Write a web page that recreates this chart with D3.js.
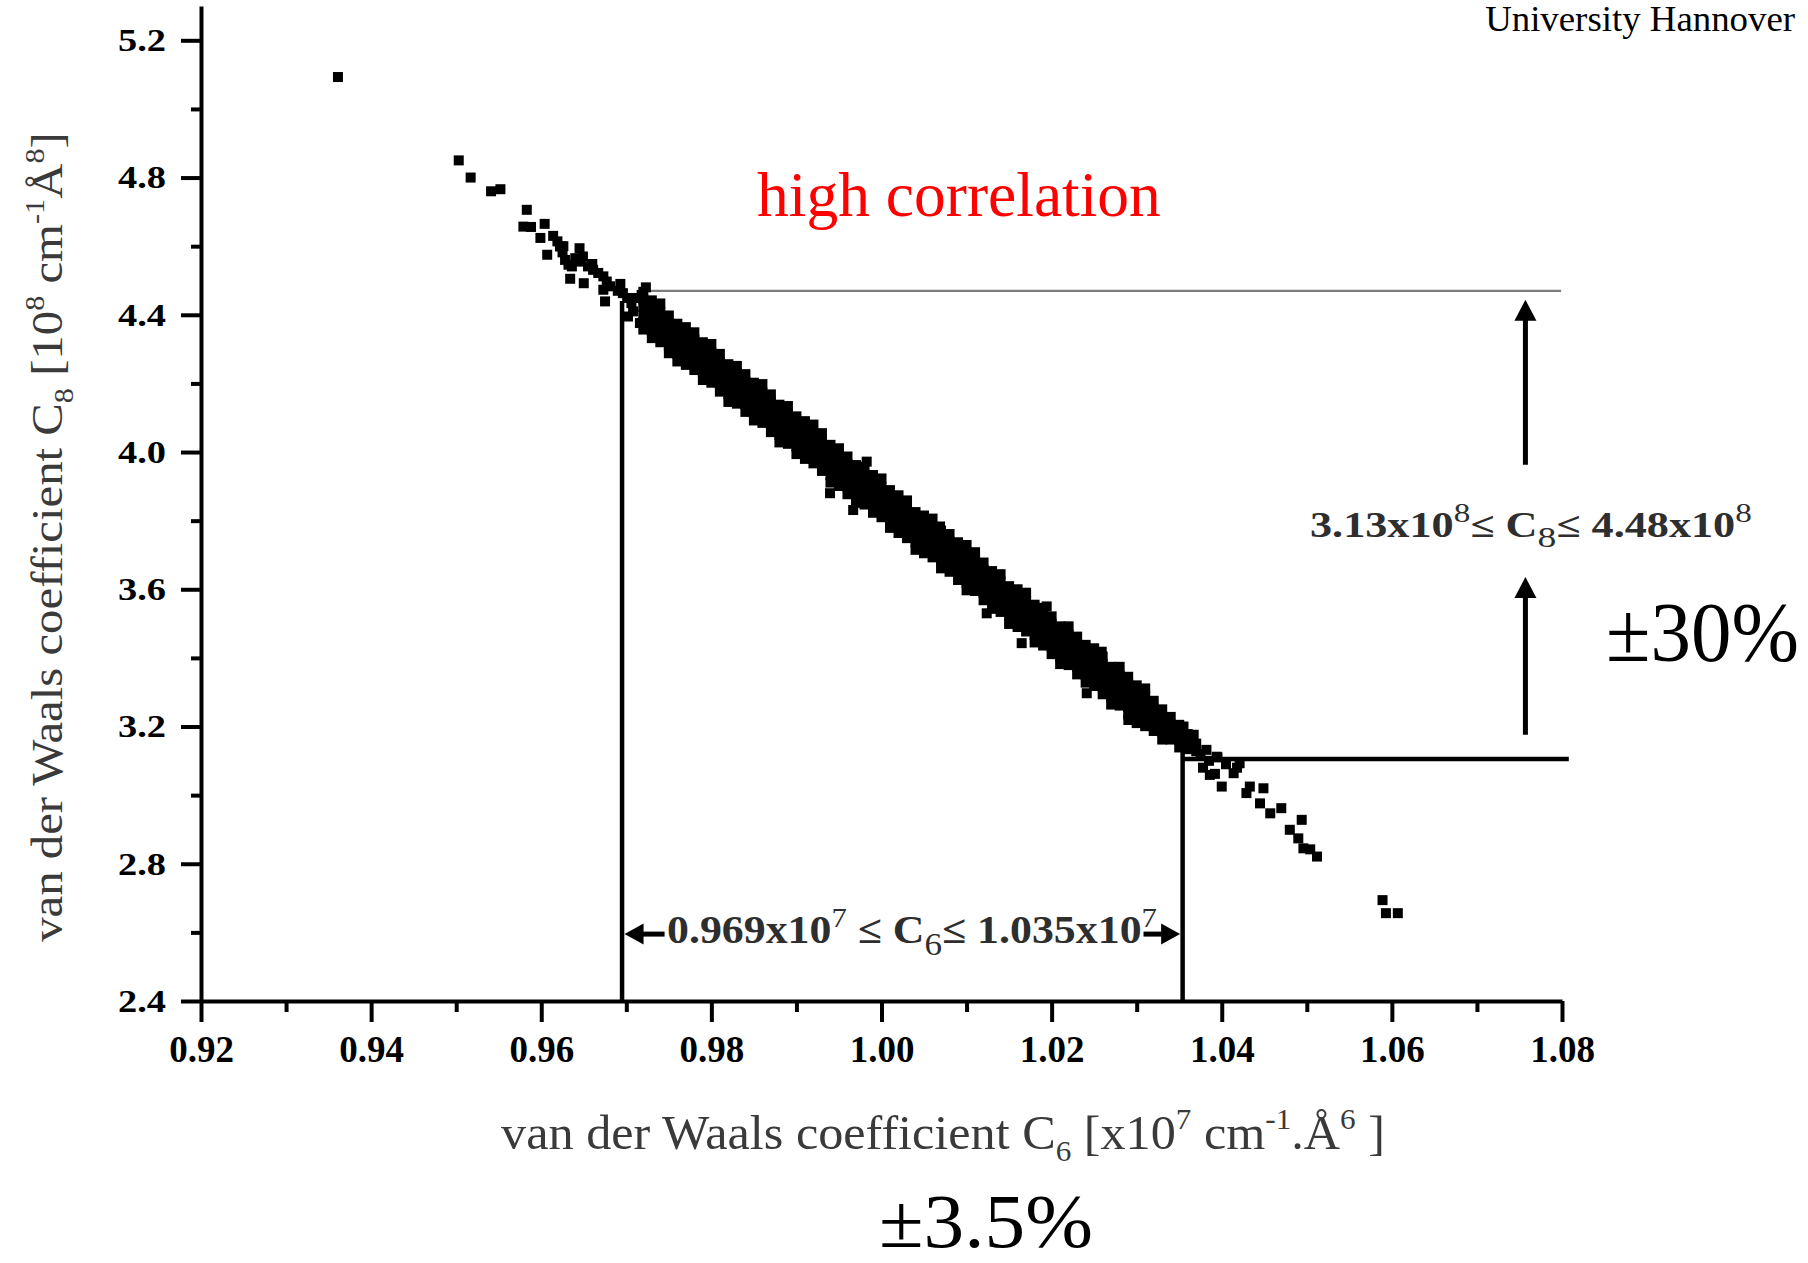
<!DOCTYPE html>
<html><head><meta charset="utf-8">
<script src="https://cdn.jsdelivr.net/npm/d3@7"></script>
<style>
body{margin:0;background:#fff}
svg{display:block}
text{font-family:"Liberation Serif","Times New Roman",Times,serif}
</style>
</head><body>
<svg id="c" width="1808" height="1263"></svg>
<script>
// ---------------- DATA ----------------
const xMajor = [0.92,0.94,0.96,0.98,1.00,1.02,1.04,1.06,1.08];
const xMajorLabels = ["0.92","0.94","0.96","0.98","1.00","1.02","1.04","1.06","1.08"];
const xMinor = [0.93,0.95,0.97,0.99,1.01,1.03,1.05,1.07];
const yMajor = [2.4,2.8,3.2,3.6,4.0,4.4,4.8,5.2];
const yMajorLabels = ["2.4","2.8","3.2","3.6","4.0","4.4","4.8","5.2"];
const yMinor = [2.6,3.0,3.4,3.8,4.2,4.6,5.0];

// sparse points at the upper-left end of the cloud [C6, C8]
const sparseUpper = [[0.9361,5.093],[0.9503,4.850],[0.9517,4.800],[0.9541,4.760],[0.9552,4.766],
 [0.9583,4.706],[0.9579,4.657],[0.9588,4.656],[0.9604,4.665],[0.9599,4.624],[0.9607,4.575],
 [0.9645,4.594],[0.9634,4.505],[0.9650,4.492],[0.9675,4.439],[0.9693,4.490],[0.9723,4.480]];
const clusterUpper = [[0.9614,4.630],[0.9619,4.614],[0.9622,4.599],[0.9625,4.582],[0.9628,4.560],
 [0.9632,4.546],[0.9636,4.541],[0.9640,4.565],[0.9646,4.555],[0.9649,4.570],[0.9655,4.541],
 [0.9661,4.531],[0.9667,4.522],[0.9673,4.512],[0.9677,4.497],[0.9681,4.483],[0.9673,4.473],
 [0.9696,4.463],[0.9701,4.449],[0.9706,4.434],[0.9712,4.449],[0.9718,4.458],[0.9708,4.410],
 [0.9702,4.395],[0.9716,4.376],[0.9724,4.415],[0.9626,4.600],[0.9660,4.548],[0.9690,4.470]];
// dense band: [C6, [C8 values]]
const bandColumns = [
 [0.972,[4.467,4.445,4.423,4.401,4.379,4.357]],
 [0.973,[4.442,4.420,4.398,4.376,4.354,4.332]],
 [0.974,[4.433,4.408,4.386,4.364,4.342,4.320]],
 [0.975,[4.398,4.376,4.354,4.332,4.310,4.288]],
 [0.976,[4.374,4.352,4.330,4.308,4.286,4.264]],
 [0.977,[4.364,4.342,4.320,4.298,4.276,4.254]],
 [0.978,[4.349,4.327,4.305,4.283,4.261,4.239]],
 [0.979,[4.320,4.298,4.276,4.254,4.232,4.210]],
 [0.980,[4.315,4.290,4.268,4.246,4.224,4.202]],
 [0.981,[4.286,4.264,4.242,4.220,4.198,4.176]],
 [0.982,[4.256,4.234,4.212,4.190,4.168,4.146]],
 [0.983,[4.251,4.229,4.207,4.185,4.163,4.141]],
 [0.984,[4.227,4.205,4.183,4.161,4.139,4.117]],
 [0.985,[4.202,4.180,4.158,4.136,4.114,4.092]],
 [0.986,[4.198,4.173,4.151,4.129,4.107,4.085]],
 [0.987,[4.168,4.146,4.124,4.102,4.080,4.058]],
 [0.988,[4.138,4.116,4.094,4.072,4.050,4.028]],
 [0.989,[4.134,4.112,4.090,4.068,4.046,4.024]],
 [0.990,[4.104,4.082,4.060,4.038,4.016,3.994]],
 [0.991,[4.090,4.068,4.046,4.024,4.002,3.980]],
 [0.992,[4.080,4.055,4.033,4.011,3.989,3.967]],
 [0.993,[4.055,4.033,4.011,3.989,3.967,3.945]],
 [0.994,[4.021,3.999,3.977,3.955,3.933,3.911]],
 [0.995,[4.011,3.989,3.967,3.945,3.923,3.901]],
 [0.996,[3.987,3.965,3.943,3.921,3.899,3.877]],
 [0.997,[3.962,3.940,3.918,3.896,3.874,3.852]],
 [0.998,[3.957,3.935,3.913,3.891,3.869,3.847]],
 [0.999,[3.933,3.911,3.889,3.867,3.845,3.823]],
 [1.000,[3.923,3.898,3.876,3.854,3.832,3.810]],
 [1.001,[3.889,3.867,3.845,3.823,3.801,3.779]],
 [1.002,[3.874,3.852,3.830,3.808,3.786,3.764]],
 [1.003,[3.859,3.837,3.815,3.793,3.771,3.749]],
 [1.004,[3.825,3.803,3.781,3.759,3.737,3.715]],
 [1.005,[3.815,3.793,3.771,3.749,3.727,3.705]],
 [1.006,[3.806,3.781,3.759,3.737,3.715,3.693]],
 [1.007,[3.771,3.749,3.727,3.705,3.683,3.661]],
 [1.008,[3.761,3.739,3.717,3.695,3.673,3.651]],
 [1.009,[3.737,3.715,3.693,3.671,3.649,3.627]],
 [1.010,[3.707,3.685,3.663,3.641,3.619,3.597]],
 [1.011,[3.708,3.683,3.661,3.639,3.617,3.595]],
 [1.012,[3.678,3.656,3.634,3.612,3.590,3.568]],
 [1.013,[3.653,3.631,3.609,3.587,3.565,3.543]],
 [1.014,[3.644,3.622,3.600,3.578,3.556,3.534]],
 [1.015,[3.609,3.587,3.565,3.543,3.521,3.499]],
 [1.016,[3.600,3.578,3.556,3.534,3.512,3.490]],
 [1.017,[3.590,3.565,3.543,3.521,3.499,3.477]],
 [1.018,[3.555,3.533,3.511,3.489,3.467,3.445]],
 [1.019,[3.546,3.524,3.502,3.480,3.458,3.436]],
 [1.020,[3.521,3.499,3.477,3.455,3.433,3.411]],
 [1.021,[3.492,3.470,3.448,3.426,3.404,3.382]],
 [1.022,[3.492,3.467,3.445,3.423,3.401,3.379]],
 [1.023,[3.462,3.440,3.418,3.396,3.374,3.352]],
 [1.024,[3.438,3.416,3.394,3.372,3.350,3.328]],
 [1.025,[3.428,3.406,3.384,3.362,3.340,3.318]],
 [1.026,[3.404,3.382,3.360,3.338,3.316,3.294]],
 [1.027,[3.374,3.352,3.330,3.308,3.286,3.264]],
 [1.028,[3.374,3.349,3.327,3.305,3.283,3.261]],
 [1.029,[3.345,3.323,3.301,3.279,3.257,3.235]],
 [1.030,[3.320,3.298,3.276,3.254,3.232,3.210]],
 [1.031,[3.311,3.289,3.267,3.245,3.223,3.201]],
 [1.032,[3.275,3.253,3.231,3.209,3.187]],
 [1.033,[3.250,3.228,3.206,3.184,3.162]],
 [1.034,[3.228,3.206,3.184,3.162]],
 [1.035,[3.205,3.183,3.161,3.139]],
 [1.036,[3.178,3.156,3.134]],
 [1.037,[3.150,3.128]]
];
const bandOutliers = [[0.99395,3.880],[0.99667,3.831],[1.01237,3.530],[1.01648,3.443],[1.02413,3.297],
 [1.02902,3.219],[1.0100,3.729],[1.01942,3.550],[1.00688,3.783],[0.99826,3.972],[1.02589,3.418]];
const tailPoints = [[1.0355,3.200],[1.0367,3.176],[1.0382,3.132],[1.0394,3.112],[1.0375,3.120],
 [1.0385,3.100],[1.0395,3.110],[1.0405,3.090],[1.0418,3.080],[1.0378,3.080],[1.0392,3.062],
 [1.0386,3.059],[1.0400,3.025],[1.0414,3.064],[1.0421,3.093],[1.0429,3.006],[1.0433,3.025],
 [1.0449,3.020],[1.0445,2.976],[1.0457,2.947],[1.0470,2.962],[1.0494,2.928],[1.0480,2.899],
 [1.0490,2.874],[1.0496,2.845],[1.0504,2.842],[1.0512,2.821],[1.0589,2.694],[1.0593,2.656],[1.0607,2.656]];

// annotation values (chart units, as drawn in the picture)
const c6Bounds = [0.9695, 1.0354];
const c6BoundTops = [4.44, 3.13];
const c8GuideLevels = [4.47, 3.105];     // grey upper guide, black lower guide
const c8GuideStarts = [0.9724, 1.0354];
const c8GuideEnds = [1.0799, 1.0808];
const upArrowC6 = 1.0757;
const upArrowSpans = [[3.963, 4.444], [3.176, 3.636]];
const c6ArrowLevel = 2.595;
const c6ArrowTails = [0.9745, 1.0308];

// ---------------- DRAW ----------------
const svg = d3.select("#c");
const x = d3.scaleLinear().domain([0.92, 1.08]).range([201, 1562]);
const y = d3.scaleLinear().domain([2.4, 5.3]).range([1001, 6]);

function richText(parent, parts, o) {
  const t = parent.append("text").attr("x", o.x).attr("y", o.y)
    .attr("text-anchor", o.anchor || "start").attr("font-size", o.size)
    .attr("fill", o.fill || "#000").attr("font-weight", o.weight || "normal");
  let shift = 0;
  parts.forEach(p => {
    const str = p[0], kind = p[1];
    const ts = t.append("tspan").text(str);
    let target = 0, fs = o.size;
    if (kind === "sup") { target = -o.size * 0.42; fs = o.size * (o.supScale || 0.62); ts.attr("font-weight", "normal"); }
    if (kind === "sub") { target = o.size * (o.subShift || 0.25); fs = o.size * (o.subScale || 0.62); ts.attr("font-weight", "normal"); }
    if (target - shift !== 0) ts.attr("dy", target - shift);
    ts.attr("font-size", fs);
    shift = target;
  });
  if (o.width) {
    const bb = t.node().getBBox();
    const s = o.width / bb.width;
    t.attr("transform", `translate(${o.x},0) scale(${s},1) translate(${-o.x},0)`);
  }
  return t;
}

// guide lines
const guides = svg.append("g");
guides.append("line")
  .attr("x1", x(c8GuideStarts[0])).attr("x2", x(c8GuideEnds[0]))
  .attr("y1", y(c8GuideLevels[0])).attr("y2", y(c8GuideLevels[0]))
  .attr("stroke", "#7d7d7d").attr("stroke-width", 2.2);
guides.append("line")
  .attr("x1", x(c8GuideStarts[1])).attr("x2", x(c8GuideEnds[1]))
  .attr("y1", y(c8GuideLevels[1])).attr("y2", y(c8GuideLevels[1]))
  .attr("stroke", "#000").attr("stroke-width", 4.5);
guides.selectAll("line.v").data(c6Bounds).join("line").attr("class", "v")
  .attr("x1", d => x(d)).attr("x2", d => x(d))
  .attr("y1", y(2.4)).attr("y2", (d, i) => y(c6BoundTops[i]))
  .attr("stroke", "#000").attr("stroke-width", 4.5);

// points
const allPoints = [].concat(
  sparseUpper, clusterUpper,
  ...bandColumns.map(c => c[1].map(v => [c[0], v])),
  bandOutliers, tailPoints);
const ms = 10;
svg.append("g").selectAll("rect").data(allPoints).join("rect")
  .attr("x", d => x(d[0]) - ms / 2).attr("y", d => y(d[1]) - ms / 2)
  .attr("width", ms).attr("height", ms).attr("fill", "#000");

// axes
const axisStyle = g => {
  g.select(".domain").attr("stroke-width", 4).attr("stroke", "#000");
  g.selectAll(".tick line").attr("stroke-width", 4).attr("stroke", "#000");
};
const gy = svg.append("g").attr("transform", `translate(${x(0.92)},0)`)
  .call(d3.axisLeft(y).tickValues(yMajor).tickSize(20).tickSizeOuter(0).tickPadding(15)
    .tickFormat((d, i) => yMajorLabels[i]))
  .call(axisStyle);
gy.selectAll(".tick text").attr("font-size", 32).attr("font-weight", "bold").attr("fill", "#000")
  .attr("font-family", "'Liberation Serif',serif")
  .attr("transform", "translate(-35,0) scale(1.2,1) translate(35,0)");
svg.append("g").attr("transform", `translate(${x(0.92)},0)`)
  .call(d3.axisLeft(y).tickValues(yMinor).tickSize(10).tickSizeOuter(0).tickFormat(""))
  .call(axisStyle).call(g => g.select(".domain").remove());

const gx = svg.append("g").attr("transform", `translate(0,${y(2.4)})`)
  .call(d3.axisBottom(x).tickValues(xMajor).tickSize(21).tickSizeOuter(0)
    .tickFormat((d, i) => xMajorLabels[i]))
  .call(axisStyle);
gx.selectAll(".tick text").attr("font-size", 37).attr("font-weight", "bold").attr("fill", "#000")
  .attr("font-family", "'Liberation Serif',serif").attr("y", 61).attr("dy", 0);
svg.append("g").attr("transform", `translate(0,${y(2.4)})`)
  .call(d3.axisBottom(x).tickValues(xMinor).tickSize(11).tickSizeOuter(0).tickFormat(""))
  .call(axisStyle).call(g => g.select(".domain").remove());

// arrows
const arr = svg.append("g").attr("fill", "#000");
upArrowSpans.forEach(s => {
  const ax = x(upArrowC6), yt = y(s[1]), yb = y(s[0]);
  arr.append("line").attr("x1", ax).attr("x2", ax).attr("y1", yb).attr("y2", yt + 18)
    .attr("stroke", "#000").attr("stroke-width", 5);
  arr.append("path").attr("d", `M${ax},${yt}L${ax - 11},${yt + 21}L${ax + 11},${yt + 21}Z`);
});
[0, 1].forEach(i => {
  const ay = y(c6ArrowLevel);
  const dir = i === 0 ? -1 : 1;
  const tip = x(c6Bounds[i]) - dir * 2.5, tail = x(c6ArrowTails[i]);
  arr.append("line").attr("x1", tail).attr("x2", tip - dir * 15).attr("y1", ay).attr("y2", ay)
    .attr("stroke", "#000").attr("stroke-width", 5);
  arr.append("path").attr("d", `M${tip},${ay}L${tip - dir * 19},${ay - 10.5}L${tip - dir * 19},${ay + 10.5}Z`);
});

// texts
richText(svg, [["van der Waals coefficient C"], ["6", "sub"], [" [x10"], ["7", "sup"], [" cm"], ["-1", "sup"], [".Å"], ["6", "sup"], [" ]"]],
  { x: 943, y: 1149, size: 48, anchor: "middle", fill: "#3a3a3a", width: 884 });
const ytg = svg.append("g").attr("transform", "translate(62,537) rotate(-90)");
richText(ytg, [["van der Waals coefficient C"], ["8", "sub"], ["  [10"], ["8", "sup"], [" cm"], ["-1", "sup"], ["Å"], ["8", "sup"], ["]"]],
  { x: 0, y: 0, size: 44, anchor: "middle", fill: "#3a3a3a", width: 810 });

richText(svg, [["0.969x10"], ["7", "sup"], [" ≤ C"], ["6", "sub"], ["≤ 1.035x10"], ["7", "sup"]],
  { x: 667, y: 943, size: 39, weight: "bold", fill: "#2e2e2e", width: 490, supScale: 0.7, subScale: 0.8, subShift: 0.3 });
richText(svg, [["3.13x10"], ["8", "sup"], ["≤ C"], ["8", "sub"], ["≤ 4.48x10"], ["8", "sup"]],
  { x: 1310, y: 537, size: 35, weight: "bold", fill: "#2e2e2e", width: 442, supScale: 0.75, subScale: 0.85, subShift: 0.3 });

richText(svg, [["high correlation"]], { x: 757, y: 216, size: 63, fill: "#ff0000", width: 404 });
richText(svg, [["±30%"]], { x: 1606, y: 661, size: 84, width: 193 });
richText(svg, [["±3.5%"]], { x: 879, y: 1247, size: 76, width: 214 });
richText(svg, [["University Hannover"]], { x: 1795, y: 31, size: 36, anchor: "end", width: 310 });
</script>
</body></html>
